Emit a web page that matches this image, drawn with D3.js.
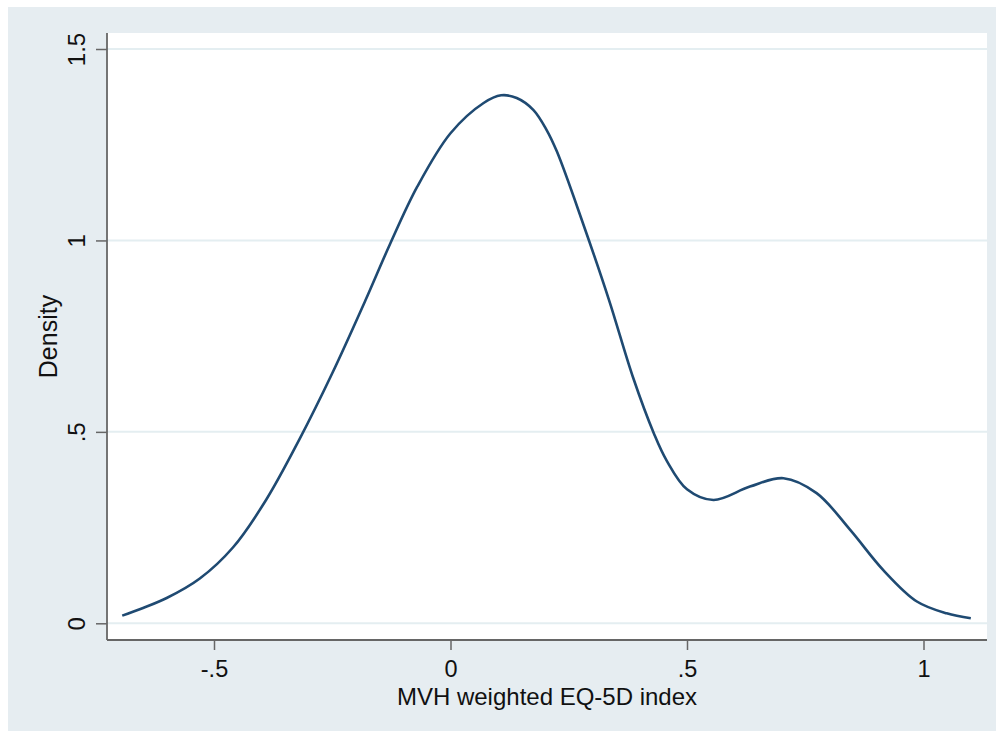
<!DOCTYPE html>
<html>
<head>
<meta charset="utf-8">
<script src="https://cdn.jsdelivr.net/npm/d3@7/dist/d3.min.js"></script>
<style>
  html, body { margin: 0; padding: 0; background: #ffffff; }
  svg { display: block; }
  text { font-family: "Liberation Sans", Arial, sans-serif; fill: #111; }
</style>
</head>
<body>
<svg id="chart" width="1000" height="731"></svg>
<script>
// ---- data ----
const xValues = [-0.694, -0.65, -0.60, -0.53, -0.46, -0.39, -0.32, -0.25, -0.18, -0.128, -0.07, 0.00, 0.07, 0.107, 0.14, 0.175, 0.203, 0.225, 0.28, 0.335, 0.386, 0.43, 0.457, 0.50, 0.556, 0.633, 0.704, 0.774, 0.845, 0.915, 0.986, 1.049, 1.10];
const densityValues = [0.020, 0.040, 0.066, 0.117, 0.198, 0.322, 0.479, 0.653, 0.843, 0.990, 1.141, 1.280, 1.359, 1.379, 1.372, 1.341, 1.289, 1.232, 1.045, 0.845, 0.642, 0.496, 0.425, 0.350, 0.322, 0.357, 0.379, 0.340, 0.244, 0.139, 0.057, 0.026, 0.013];
const xTicks = [-0.5, 0, 0.5, 1];
const xTickLabels = ["-.5", "0", ".5", "1"];
const yTicks = [0, 0.5, 1, 1.5];
const yTickLabels = ["0", ".5", "1", "1.5"];
const xTitle = "MVH weighted EQ-5D index";
const yTitle = "Density";

// ---- layout ----
const svg = d3.select("#chart");
const plot = { left: 107, right: 987, top: 33, bottom: 640 };

svg.append("rect").attr("x", 8).attr("y", 7).attr("width", 988).attr("height", 724)
  .attr("fill", "#e6edf1");
svg.append("rect").attr("x", plot.left).attr("y", plot.top)
  .attr("width", plot.right - plot.left).attr("height", plot.bottom - plot.top)
  .attr("fill", "#ffffff");

const x = d3.scaleLinear().domain([-0.5, 1]).range([214, 923.5]);
const y = d3.scaleLinear().domain([0, 1.5]).range([623.3, 49]);

// gridlines
svg.append("g").selectAll("line").data(yTicks).join("line")
  .attr("x1", plot.left).attr("x2", plot.right)
  .attr("y1", d => y(d)).attr("y2", d => y(d))
  .attr("stroke", "#e4eef1").attr("stroke-width", 2);

// curve
const pts = xValues.map((v, i) => [v, densityValues[i]]);
svg.append("path").datum(pts)
  .attr("d", d3.line().x(d => x(d[0])).y(d => y(d[1])).curve(d3.curveCatmullRom.alpha(0.5)))
  .attr("fill", "none").attr("stroke", "#1f4a72").attr("stroke-width", 2.6)
  .attr("stroke-linejoin", "round");

// y axis
const yAxis = d3.axisLeft(y).tickValues(yTicks).tickFormat((d, i) => yTickLabels[i])
  .tickSize(11).tickPadding(10).tickSizeOuter(0);
const gy = svg.append("g").attr("transform", `translate(${plot.left},0)`).call(yAxis);
gy.select(".domain").remove();
gy.selectAll(".tick line").attr("stroke", "#666").attr("stroke-width", 1.5);
gy.selectAll(".tick text")
  .attr("x", null).attr("dy", null)
  .attr("text-anchor", "middle")
  .attr("transform", "translate(-22,0) rotate(-90)")
  .attr("font-size", 24).attr("fill", "#111")
  .attr("font-family", "Liberation Sans, Arial, sans-serif");
svg.append("line").attr("x1", plot.left).attr("x2", plot.left)
  .attr("y1", plot.top).attr("y2", plot.bottom)
  .attr("stroke", "#666").attr("stroke-width", 1.8);

// x axis
const xAxis = d3.axisBottom(x).tickValues(xTicks).tickFormat((d, i) => xTickLabels[i])
  .tickSize(10).tickPadding(4).tickSizeOuter(0);
const gx = svg.append("g").attr("transform", `translate(0,${plot.bottom})`).call(xAxis);
gx.select(".domain").remove();
gx.selectAll(".tick line").attr("stroke", "#666").attr("stroke-width", 1.5);
gx.selectAll(".tick text")
  .attr("y", 37).attr("dy", null)
  .attr("font-size", 23.5).attr("fill", "#111")
  .attr("font-family", "Liberation Sans, Arial, sans-serif");
svg.append("line").attr("x1", plot.left).attr("x2", plot.right)
  .attr("y1", plot.bottom).attr("y2", plot.bottom)
  .attr("stroke", "#666").attr("stroke-width", 1.8);

// titles
svg.append("text").attr("x", (plot.left + plot.right) / 2).attr("y", 705)
  .attr("text-anchor", "middle").attr("font-size", 24).text(xTitle);
svg.append("text").attr("transform", `translate(57,${(plot.top + plot.bottom) / 2}) rotate(-90)`)
  .attr("text-anchor", "middle").attr("font-size", 25).text(yTitle);
</script>
</body>
</html>
